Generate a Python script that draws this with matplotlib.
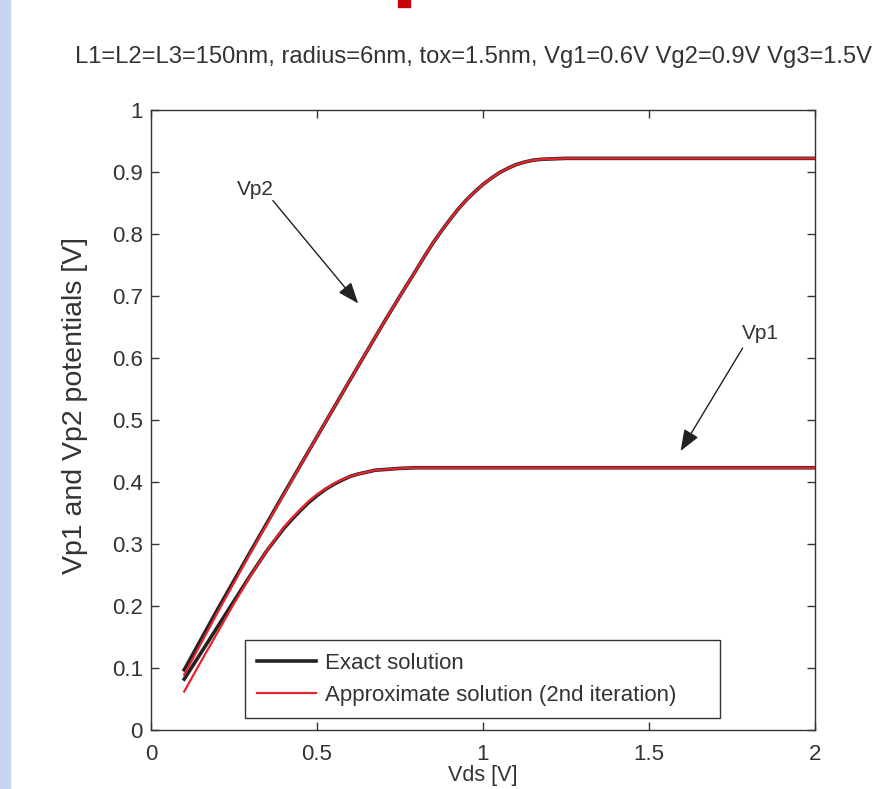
import matplotlib
matplotlib.use("Agg")
import matplotlib.pyplot as plt
from matplotlib.patches import Rectangle

plt.rcParams['font.family'] = ['Liberation Sans', 'DejaVu Sans']

# ---- data ----
vds_vp2 = [0.10, 0.20, 0.30, 0.40, 0.50, 0.60, 0.70, 0.75, 0.80, 0.825, 0.85, 0.875,
           0.90, 0.925, 0.95, 0.975, 1.00, 1.025, 1.05, 1.075, 1.10, 1.125, 1.15,
           1.175, 1.20, 1.25, 1.50, 2.00]
vp2_exact = [0.097, 0.194, 0.288, 0.381, 0.473, 0.565, 0.656, 0.700, 0.743, 0.765,
             0.786, 0.805, 0.823, 0.840, 0.855, 0.868, 0.880, 0.890, 0.899, 0.906,
             0.912, 0.916, 0.919, 0.9205, 0.921, 0.922, 0.922, 0.922]
vp2_approx = [0.089, 0.189, 0.286, 0.380, 0.473, 0.565, 0.656, 0.700, 0.743, 0.765,
              0.786, 0.805, 0.823, 0.840, 0.855, 0.868, 0.880, 0.890, 0.899, 0.906,
              0.912, 0.916, 0.919, 0.9205, 0.921, 0.922, 0.922, 0.922]

vds_vp1 = [0.10, 0.15, 0.20, 0.25, 0.30, 0.35, 0.40, 0.425, 0.45, 0.475, 0.50, 0.525,
           0.55, 0.575, 0.60, 0.625, 0.65, 0.675, 0.70, 0.75, 0.80, 1.00, 1.50, 2.00]
vp1_exact = [0.082, 0.124, 0.166, 0.208, 0.250, 0.290, 0.325, 0.340, 0.354, 0.367,
             0.378, 0.388, 0.396, 0.403, 0.409, 0.413, 0.416, 0.419, 0.420, 0.422,
             0.423, 0.423, 0.423, 0.423]
vp1_approx = [0.062, 0.110, 0.157, 0.204, 0.249, 0.290, 0.327, 0.342, 0.356, 0.369,
              0.380, 0.389, 0.397, 0.404, 0.409, 0.413, 0.416, 0.419, 0.420, 0.422,
              0.423, 0.423, 0.423, 0.423]

xticks = [0, 0.5, 1, 1.5, 2]
xticklabels = ["0", "0.5", "1", "1.5", "2"]
yticks = [0, 0.1, 0.2, 0.3, 0.4, 0.5, 0.6, 0.7, 0.8, 0.9, 1.0]
yticklabels = ["0", "0.1", "0.2", "0.3", "0.4", "0.5", "0.6", "0.7", "0.8", "0.9", "1"]

title = "L1=L2=L3=150nm, radius=6nm, tox=1.5nm, Vg1=0.6V Vg2=0.9V Vg3=1.5V"

W, H = 890, 789
fig = plt.figure(figsize=(W / 100, H / 100), dpi=100)
fig.patch.set_facecolor('white')

# decorations from slide
fig.patches.append(Rectangle((0, 0), 10 / W, 1, transform=fig.transFigure,
                             color='#c6d6ee', zorder=0))
fig.patches.append(Rectangle((398 / W, 1 - 7 / H), 12 / W, 7 / H,
                             transform=fig.transFigure, color='#c8000a', zorder=0))

ax = fig.add_axes([151 / W, 1 - 730 / H, 664 / W, 620 / H])

black = '#222222'
red = '#e8232b'
ax.plot(vds_vp2, vp2_exact, color=black, lw=2.6, label='Exact solution', zorder=2)
ax.plot(vds_vp1, vp1_exact, color=black, lw=2.6, zorder=2)
ax.plot(vds_vp2, vp2_approx, color=red, lw=1.6,
        label='Approximate solution (2nd iteration)', zorder=3)
ax.plot(vds_vp1, vp1_approx, color=red, lw=1.6, zorder=3)

ax.set_xlim(0, 2)
ax.set_ylim(0, 1)
ax.set_xticks(xticks)
ax.set_xticklabels(xticklabels)
ax.set_yticks(yticks)
ax.set_yticklabels(yticklabels)

spc = '#333333'
for s in ax.spines.values():
    s.set_color(spc)
    s.set_linewidth(1.0)
ax.tick_params(direction='in', top=True, right=True, length=6, width=1,
               color=spc, labelcolor='#333333', labelsize=16)
ax.tick_params(axis='x', pad=10)
ax.tick_params(axis='y', pad=6)

ax.set_xlabel('Vds [V]', fontsize=15.5, color='#333333', va='top')
ax.xaxis.set_label_coords(0.5, (730 - 764.5) / 620)
ax.set_ylabel('Vp1 and Vp2 potentials [V]', fontsize=20.5, color='#333333')
ax.yaxis.set_label_coords(-0.095, 0.5226)

fig.text(75 / W, 1 - 57 / H, title, ha='left', va='center', fontsize=17.1,
         color='#333333')

# annotations
arrow_kw = dict(arrowstyle='-|>,head_length=1.3,head_width=0.5', color='#222222',
                lw=1.0, shrinkA=0, shrinkB=0)
ax.annotate('', xy=(0.624, 0.688), xytext=(0.367, 0.854), arrowprops=arrow_kw)
ax.text(0.313, 0.871, 'Vp2', ha='center', va='center', fontsize=15, color='#333333')
ax.annotate('', xy=(1.595, 0.450), xytext=(1.782, 0.616), arrowprops=arrow_kw)
ax.text(1.836, 0.639, 'Vp1', ha='center', va='center', fontsize=15, color='#333333')

leg = ax.legend(loc='lower left',
                bbox_to_anchor=((245 - 151) / 664, 12 / 620, 475 / 664, 78 / 620),
                mode='expand', borderaxespad=0, fontsize=16, frameon=True,
                fancybox=False, edgecolor='#333333', framealpha=1,
                handlelength=2.65, handletextpad=0.4, borderpad=0.55,
                labelspacing=0.5)
leg.get_frame().set_linewidth(1.0)
for t in leg.get_texts():
    t.set_color('#333333')

fig.savefig('out.png', dpi=100)
